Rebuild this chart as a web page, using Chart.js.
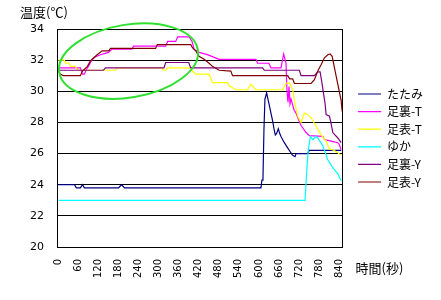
<!DOCTYPE html>
<html>
<head>
<meta charset="utf-8">
<script src="https://cdn.jsdelivr.net/npm/chart.js@4"></script>
<style>
html, body { margin: 0; padding: 0; background: #fff; }
</style>
</head>
<body>
<canvas id="c" width="441" height="300"></canvas>
<script>
// 時間(秒) の目盛り
const xTicks = [0, 60, 120, 180, 240, 300, 360, 420, 480, 540, 600, 660, 720, 780, 840];

const names = ['たたみ', '足裏-T', '足表-T', 'ゆか', '足裏-Y', '足表-Y'];
const colors = ['#000080', '#ff00ff', '#ffff00', '#00ffff', '#800080', '#800000'];

// たたみ
const tatamiT = [0, 48, 54, 66, 72, 78, 180, 189, 198, 606, 609, 612, 615, 618, 623, 627, 630, 636, 641, 645, 649, 653, 658, 662, 666, 676, 685, 694, 700, 708, 711, 746, 750, 846];
const tatamiV = [24.0, 24.0, 23.8, 23.8, 24.0, 23.8, 23.8, 24.0, 23.8, 23.8, 24.3, 24.3, 27.5, 29.5, 29.9, 29.5, 29.2, 28.6, 28.1, 27.6, 27.2, 27.3, 27.6, 27.3, 27.1, 26.7, 26.4, 26.1, 25.9, 25.8, 26.0, 26.0, 26.2, 26.2];

// 足裏-T
const uraTT = [0, 66, 72, 78, 84, 90, 96, 102, 110, 126, 150, 160, 220, 225, 321, 327, 351, 357, 391, 400, 406, 421, 446, 481, 591, 596, 630, 636, 666, 674, 681, 684, 687, 690, 693, 696, 705, 711, 718, 726, 741, 751, 791, 796, 816, 836, 840, 846];
const uraTV = [31.5, 31.5, 31.1, 31.1, 31.4, 31.6, 31.85, 32.05, 32.2, 32.35, 32.5, 32.7, 32.7, 32.9, 32.9, 33.2, 33.2, 33.5, 33.5, 33.2, 32.7, 32.5, 32.35, 32.05, 32.05, 31.8, 31.8, 31.5, 31.5, 32.4, 31.8, 30.0, 29.3, 30.3, 29.2, 29.5, 28.8, 28.6, 28.2, 27.8, 27.35, 27.15, 27.1, 26.9, 26.8, 26.7, 26.6, 26.25];

// 足表-T
const omoteTT = [0, 18, 21, 33, 36, 51, 57, 171, 176, 310, 314, 322, 327, 396, 401, 411, 451, 461, 506, 511, 531, 566, 576, 586, 591, 671, 681, 691, 701, 706, 716, 726, 736, 746, 756, 771, 786, 801, 811, 826, 846];
const omoteTV = [32.0, 32.0, 31.8, 31.8, 31.6, 31.6, 31.35, 31.35, 31.5, 31.5, 31.35, 31.35, 31.5, 31.5, 31.3, 31.1, 31.1, 30.55, 30.55, 30.35, 30.1, 30.1, 30.45, 30.2, 30.1, 30.1, 30.5, 30.55, 30.1, 29.4, 28.4, 28.0, 28.6, 28.5, 28.3, 27.75, 27.2, 26.8, 26.3, 26.2, 25.9];

// ゆか
const yukaT = [0, 738, 741, 744, 748, 754, 761, 771, 776, 791, 806, 821, 836, 846];
const yukaV = [23.0, 23.0, 24.1, 25.2, 26.3, 27.1, 26.9, 27.1, 27.0, 26.5, 25.6, 25.1, 24.7, 24.25];

// 足裏-Y
const uraYT = [0, 135, 141, 316, 321, 390, 396, 611, 616, 721, 726, 766, 776, 783, 788, 793, 798, 801, 811, 816, 821, 836, 846];
const uraYV = [31.35, 31.35, 31.5, 31.5, 31.85, 31.85, 31.5, 31.5, 31.35, 31.35, 31.0, 31.0, 31.25, 31.25, 30.6, 29.9, 29.2, 28.5, 28.4, 27.9, 27.35, 27.0, 26.7];

// 足表-Y
const omoteYT = [0, 6, 15, 66, 72, 87, 96, 106, 116, 131, 151, 156, 291, 296, 396, 401, 411, 421, 436, 451, 461, 481, 516, 521, 686, 692, 701, 706, 756, 766, 776, 786, 796, 806, 813, 819, 826, 836, 846, 849];
const omoteYV = [31.3, 31.1, 31.0, 31.0, 31.3, 31.6, 31.95, 32.15, 32.35, 32.6, 32.6, 32.75, 32.75, 33.0, 33.0, 32.8, 32.6, 32.25, 32.05, 31.8, 31.6, 31.35, 31.3, 31.0, 31.0, 30.8, 30.8, 30.5, 30.5, 30.75, 31.3, 31.7, 32.15, 32.35, 32.4, 32.25, 31.5, 30.45, 29.4, 28.7];

// 緑の楕円 (中心: 秒, ℃ / 半径: 秒, ℃)
const ringCenter = [210, 31.94];
const ringRadius = [210, 2.34];

const times = [tatamiT, uraTT, omoteTT, yukaT, uraYT, omoteYT];
const temps = [tatamiV, uraTV, omoteTV, yukaV, uraYV, omoteYV];

const datasets = names.map(function (n, i) {
    return {
        label: n,
        data: times[i].map(function (t, k) { return { x: t, y: temps[i][k] }; }),
        borderColor: colors[i],
        backgroundColor: colors[i],
        borderWidth: 1.2,
        pointRadius: 0,
        tension: 0,
        fill: false,
        order: names.length - i
    };
});

const extras = {
    id: 'extras',
    afterDatasetsDraw(chart) {
        const ctx = chart.ctx;
        const x = chart.scales.x, y = chart.scales.y;
        const cx = x.getPixelForValue(ringCenter[0]);
        const cy = y.getPixelForValue(ringCenter[1]);
        const rx = Math.abs(x.getPixelForValue(ringCenter[0] + ringRadius[0]) - cx);
        const ry = Math.abs(y.getPixelForValue(ringCenter[1] + ringRadius[1]) - cy);
        ctx.save();
        ctx.strokeStyle = '#2fe02f';
        ctx.lineWidth = 2;
        ctx.beginPath();
        ctx.ellipse(cx, cy, rx, ry, -9.3 * Math.PI / 180, 0, Math.PI * 2);
        ctx.stroke();
        ctx.restore();
    },
    afterDraw(chart) {
        const ctx = chart.ctx;
        const a = chart.chartArea;
        ctx.save();
        ctx.fillStyle = '#000';
        ctx.font = "13px 'Noto Sans CJK JP'";
        ctx.textBaseline = 'middle';
        ctx.textAlign = 'left';
        ctx.fillText('温度(℃)', a.left - 37, a.top - 17);
        ctx.fillText('時間(秒)', a.right + 13, a.bottom + 21);
        ctx.restore();
    }
};

new Chart(document.getElementById('c'), {
    type: 'line',
    data: { datasets: datasets },
    options: {
        responsive: false,
        animation: false,
        devicePixelRatio: 1,
        layout: { padding: { top: 29, right: 18, bottom: 0, left: 0 } },
        plugins: {
            legend: {
                position: 'right',
                align: 'center',
                fullSize: false,
                labels: {
                    usePointStyle: true,
                    pointStyle: 'line',
                    pointStyleWidth: 23,
                    padding: 5.6,
                    color: '#000',
                    font: { family: "'Noto Sans CJK JP'", size: 12 },
                    sort: function (a, b) { return a.datasetIndex - b.datasetIndex; }
                }
            },
            tooltip: { enabled: false }
        },
        scales: {
            x: {
                type: 'linear',
                min: -4,
                max: 850,
                afterBuildTicks: function (s) { s.ticks = xTicks.map(function (v) { return { value: v }; }); },
                afterFit: function (s) { s.height = 53; },
                grid: { display: false, drawTicks: false },
                border: { display: true, color: '#000', width: 1 },
                ticks: {
                    autoSkip: false,
                    minRotation: 90,
                    maxRotation: 90,
                    padding: 12,
                    color: '#000',
                    font: { family: "'DejaVu Sans'", size: 10 }
                }
            },
            y: {
                min: 20,
                max: 34,
                afterFit: function (s) { s.width = 57; },
                grid: { color: '#000', lineWidth: 1, drawTicks: false },
                border: { display: true, color: '#000', width: 1 },
                ticks: {
                    stepSize: 2,
                    padding: 13,
                    color: '#000',
                    font: { family: "'DejaVu Sans'", size: 11 }
                }
            },
            y2: {
                position: 'right',
                min: 20,
                max: 34,
                afterFit: function (s) { s.width = 10; },
                grid: { drawOnChartArea: false, drawTicks: false },
                border: { display: true, color: '#000', width: 1 },
                ticks: { display: false }
            }
        }
    },
    plugins: [extras]
});
</script>
</body>
</html>
